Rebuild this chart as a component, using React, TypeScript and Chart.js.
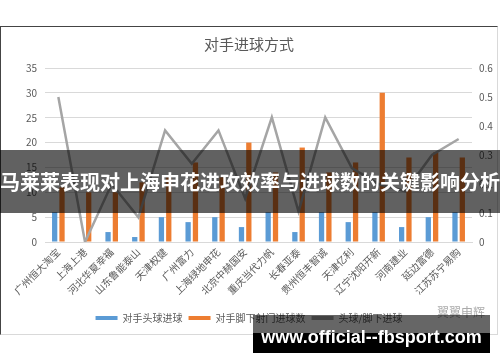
import React, { useEffect, useRef } from "react";
import { Chart, registerables } from "chart.js";

Chart.register(...registerables);

const categories = [
  "广州恒大淘宝", "上海上港", "河北华夏幸福", "山东鲁能泰山", "天津权健", "广州富力",
  "上海绿地申花", "北京中赫国安", "重庆当代力帆", "长春亚泰", "贵州恒丰智诚", "天津亿利",
  "辽宁沈阳开新", "河南建业", "延边富德", "江苏苏宁易购",
];
const headerGoals = [6, 0, 2, 1, 5, 4, 5, 3, 6, 2, 6, 4, 6, 3, 5, 6];
const footGoals = [11, 10, 10, 12, 13, 16, 13, 20, 14, 19, 14, 16, 30, 17, 18, 17];
const ratio = [0.5, 0, 0.2, 0.085, 0.385, 0.27, 0.385, 0.15, 0.43, 0.105, 0.43, 0.255, 0.2, 0.175, 0.3, 0.355];

const seriesNames = ["对手头球进球", "对手脚下射门进球数", "头球/脚下进球"];
const chartTitle = "对手进球方式";
const bannerText = "马莱莱表现对上海申花进攻效率与进球数的关键影响分析";
const watermarkText = "www.official--fbsport.com";
const logoText = "翼翼申辉";

const FONT = '"Noto Sans CJK SC", "Noto Sans", sans-serif';
const TEXT = "#595959";

export default function App() {
  const ref = useRef<HTMLCanvasElement>(null);

  useEffect(() => {
    if (!ref.current) return;
    const chart = new Chart(ref.current, {
      type: "bar",
      data: {
        labels: categories,
        datasets: [
          {
            type: "bar",
            label: seriesNames[0],
            data: headerGoals,
            backgroundColor: "#5b9bd5",
            yAxisID: "y",
            order: 1,
            categoryPercentage: 0.55,
            barPercentage: 0.72,
          },
          {
            type: "bar",
            label: seriesNames[1],
            data: footGoals,
            backgroundColor: "#ed7d31",
            yAxisID: "y",
            order: 1,
            categoryPercentage: 0.55,
            barPercentage: 0.72,
          },
          {
            type: "line",
            label: seriesNames[2],
            data: ratio,
            borderColor: "#a5a5a5",
            backgroundColor: "#a5a5a5",
            borderWidth: 2.5,
            pointRadius: 0,
            tension: 0,
            yAxisID: "y1",
            order: 0,
          },
        ],
      },
      options: {
        animation: false,
        responsive: false,
        maintainAspectRatio: false,
        layout: { padding: { left: 0, right: 0, top: 0, bottom: 1 } },
        plugins: {
          title: {
            display: true,
            text: chartTitle,
            color: TEXT,
            font: { size: 15, weight: "normal", family: FONT },
            padding: { top: 8, bottom: 15 },
          },
          legend: {
            display: true,
            position: "bottom",
            labels: {
              boxWidth: 22,
              boxHeight: 4,
              color: TEXT,
              font: { size: 10, family: FONT },
              padding: 6,
              generateLabels: (c: any) =>
                Chart.defaults.plugins.legend.labels
                  .generateLabels(c)
                  .map((l: any) => ({ ...l, lineWidth: 0 }))
                  .sort((a: any, b: any) => a.datasetIndex - b.datasetIndex),
            },
          },
          tooltip: { enabled: false },
        },
        scales: {
          x: {
            grid: { display: false, drawTicks: false },
            border: { color: "#d9d9d9" },
            ticks: {
              autoSkip: false,
              minRotation: 45,
              maxRotation: 45,
              color: TEXT,
              font: { size: 10, family: FONT },
              padding: 4,
            },
            afterFit: (s: any) => {
              s.height = 65;
            },
          },
          y: {
            position: "left",
            min: 0,
            max: 35,
            ticks: { stepSize: 5, color: TEXT, font: { size: 10, family: FONT }, padding: 8 },
            grid: { color: "#d9d9d9", drawTicks: false },
            border: { display: false },
            afterFit: (s: any) => {
              s.width = 44;
            },
          },
          y1: {
            position: "right",
            min: 0,
            max: 0.6,
            ticks: {
              stepSize: 0.1,
              color: TEXT,
              font: { size: 10, family: FONT },
              padding: 7,
              callback: (v: any) => String(Number(Number(v).toFixed(1))),
            },
            grid: { display: false, drawTicks: false },
            border: { display: false },
            afterFit: (s: any) => {
              s.width = 25;
            },
          },
        },
      },
    } as any);
    return () => chart.destroy();
  }, []);

  return (
    <div
      style={{
        position: "absolute",
        left: 0,
        top: 0,
        width: 500,
        height: 362,
        overflow: "hidden",
        background: "#fff",
        fontFamily: FONT,
      }}
    >
      <div
        style={{
          position: "absolute",
          left: 0,
          top: 26,
          width: 496,
          height: 307,
          borderTop: "1px solid #444",
          borderLeft: "1px solid #444",
          borderRight: "1px solid #d9d9d9",
          borderBottom: "1px solid #d9d9d9",
        }}
      >
        <canvas ref={ref} width={496} height={307} style={{ display: "block", width: 496, height: 307 }} />
      </div>
      <div
        style={{
          position: "absolute",
          left: 437,
          top: 304,
          fontSize: 12,
          color: "#aaa",
          lineHeight: "16px",
        }}
      >
        {logoText}
      </div>
      <div
        style={{
          position: "absolute",
          left: 0,
          top: 150,
          width: 500,
          height: 63,
          background: "rgba(0,0,0,0.62)",
        }}
      />
      <div
        style={{
          position: "absolute",
          left: 0,
          top: 150,
          width: 500,
          height: 63,
          lineHeight: "63px",
          textAlign: "center",
          color: "#fff",
          fontWeight: 700,
          fontSize: 20,
          whiteSpace: "nowrap",
          fontFamily: '"Noto Sans CJK SC", sans-serif',
        }}
      >
        {bannerText}
      </div>
      <div
        style={{
          position: "absolute",
          left: 253,
          top: 315,
          width: 237,
          height: 18,
          background: "rgba(0,0,0,0.6)",
        }}
      />
      <div
        style={{
          position: "absolute",
          left: 253,
          top: 333,
          width: 237,
          height: 20,
          background: "#000",
        }}
      />
      <div
        style={{
          position: "absolute",
          left: 253,
          top: 326,
          width: 237,
          height: 22,
          lineHeight: "22px",
          textAlign: "center",
          color: "#fff",
          fontWeight: 700,
          fontSize: 18,
          whiteSpace: "nowrap",
          fontFamily: '"Liberation Sans", Arial, sans-serif',
        }}
      >
        {watermarkText}
      </div>
    </div>
  );
}
